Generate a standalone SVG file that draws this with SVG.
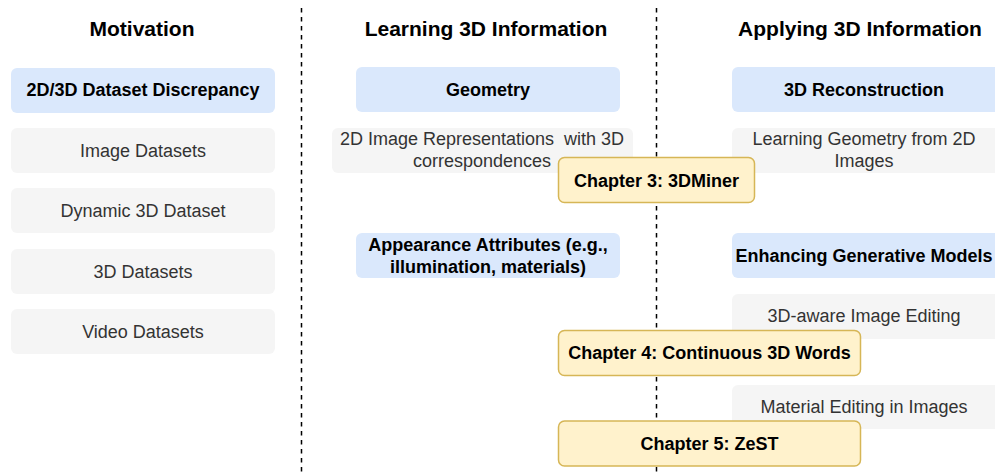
<svg xmlns="http://www.w3.org/2000/svg" width="995" height="473" viewBox="0 0 995 473">
<style>
.hdr{font-family:"Liberation Sans",Arial,sans-serif;font-size:21px;font-weight:bold;fill:#000;text-anchor:middle}
.blue{fill:#dae8fc;stroke:none}
.gray{fill:#f5f5f5;stroke:none}
.yel{fill:#fff2cc;stroke:#d6b656;stroke-width:1.5}
.bt{font-family:"Liberation Sans",Arial,sans-serif;font-size:18px;font-weight:bold;fill:#000;text-anchor:middle}
.gt{font-family:"Liberation Sans",Arial,sans-serif;font-size:18px;fill:#333333;text-anchor:middle;white-space:pre}
.div{stroke:#000;stroke-width:1.5;stroke-dasharray:4.5 4.5;fill:none}
</style>
<rect width="995" height="473" fill="#ffffff"/>
<g id="headers">
<text class="hdr" x="142" y="36">Motivation</text>
<text class="hdr" x="486" y="36">Learning 3D Information</text>
<text class="hdr" x="860" y="36">Applying 3D Information</text>
</g>
<g id="connectors">
<line class="div" x1="301.5" y1="8" x2="301.5" y2="473"/>
<line class="div" x1="656.5" y1="8" x2="656.5" y2="473"/>
</g>
<g id="n-discrepancy"><rect class="blue" x="11" y="68" width="264" height="45" rx="6"/><text class="bt" x="143" y="96">2D/3D Dataset Discrepancy</text></g>
<g id="n-image-datasets"><rect class="gray" x="11" y="128" width="264" height="45" rx="6"/><text class="gt" x="143" y="156.5">Image Datasets</text></g>
<g id="n-dynamic"><rect class="gray" x="11" y="188" width="264" height="45" rx="6"/><text class="gt" x="143" y="216.5">Dynamic 3D Dataset</text></g>
<g id="n-3d-datasets"><rect class="gray" x="11" y="249" width="264" height="45" rx="6"/><text class="gt" x="143" y="277.5">3D Datasets</text></g>
<g id="n-video"><rect class="gray" x="11" y="309" width="264" height="45" rx="6"/><text class="gt" x="143" y="337.5">Video Datasets</text></g>
<g id="n-geometry"><rect class="blue" x="356" y="67" width="264" height="45" rx="6"/><text class="bt" x="488" y="95.5">Geometry</text></g>
<g id="n-2d-repr"><rect class="gray" x="332" y="128" width="301" height="45" rx="6"/><text class="gt" x="482" y="145">2D Image Representations  with 3D</text><text class="gt" x="482" y="167">correspondences</text></g>
<g id="n-appearance"><rect class="blue" x="356" y="233" width="264" height="45" rx="6"/><text class="bt" x="488" y="251">Appearance Attributes (e.g.,</text><text class="bt" x="488" y="273">illumination, materials)</text></g>
<g id="n-3d-recon"><rect class="blue" x="732" y="67" width="270" height="45" rx="6"/><text class="bt" x="864" y="95.5">3D Reconstruction</text></g>
<g id="n-learn-geom"><rect class="gray" x="732" y="128" width="270" height="45" rx="6"/><text class="gt" x="864" y="145">Learning Geometry from 2D</text><text class="gt" x="864" y="167">Images</text></g>
<g id="n-enhancing"><rect class="blue" x="732" y="233" width="270" height="45" rx="6"/><text class="bt" x="864" y="261.5">Enhancing Generative Models</text></g>
<g id="n-3d-aware"><rect class="gray" x="732" y="294" width="270" height="45" rx="6"/><text class="gt" x="864" y="322">3D-aware Image Editing</text></g>
<g id="n-material"><rect class="gray" x="732" y="385" width="270" height="44" rx="6"/><text class="gt" x="864" y="413">Material Editing in Images</text></g>
<g id="n-ch3"><rect class="yel" x="558.5" y="157.5" width="196" height="45" rx="6"/><text class="bt" x="656.5" y="186.5">Chapter 3: 3DMiner</text></g>
<g id="n-ch4"><rect class="yel" x="558.5" y="330.5" width="302" height="45" rx="6"/><text class="bt" x="709.5" y="358.5">Chapter 4: Continuous 3D Words</text></g>
<g id="n-ch5"><rect class="yel" x="558.5" y="421" width="302" height="45" rx="6"/><text class="bt" x="709.5" y="449.5">Chapter 5: ZeST</text></g>
</svg>
